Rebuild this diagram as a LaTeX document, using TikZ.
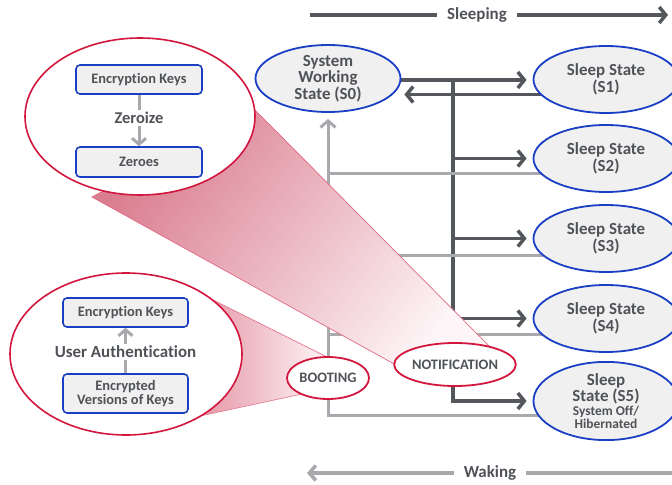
\documentclass[tikz,border=0pt]{standalone}
\usepackage{fontspec}
\setmainfont{Carlito}[Ligatures=NoCommon]
\usetikzlibrary{arrows.meta,shapes.geometric,backgrounds}

\definecolor{txt}{HTML}{4F5257}
\definecolor{darkline}{HTML}{54575C}
\definecolor{lightline}{HTML}{A7A9AD}
\definecolor{stateblue}{HTML}{1B3FC4}
\definecolor{statefill}{HTML}{F0F0F0}
\definecolor{crimson}{HTML}{D2163E}
\definecolor{conedark}{HTML}{DA7D8F}
\definecolor{conedarkb}{HTML}{E597A6}
\definecolor{conelight}{HTML}{FDF5F7}

\begin{document}
\begin{tikzpicture}[x=1bp,y=-1bp,
  text=txt,
  state/.style={ellipse, draw=stateblue, line width=1.8bp, fill=statefill,
    minimum width=145bp, minimum height=67bp, inner sep=0pt, align=center,
    font=\fontsize{17}{16.5}\selectfont\bfseries},
  phase/.style={ellipse, draw=crimson, line width=1.8bp, fill=white, inner sep=0pt,
    font=\fontsize{14.5}{16}\selectfont\bfseries},
  bubble/.style={ellipse, draw=crimson, line width=1.6bp, fill=white, inner sep=0pt},
  keybox/.style={rectangle, rounded corners=4bp, draw=stateblue, line width=1.6bp,
    fill=statefill, minimum width=126bp, inner sep=0pt, align=center,
    font=\fontsize{14.5}{13.7}\selectfont\bfseries},
  sleepline/.style={draw=darkline, line width=3.5bp},
  wakeline/.style={draw=lightline, line width=3bp},
  darktip/.style={-{Straight Barb[length=6.5bp,width=16bp]}},
  lighttip/.style={-{Straight Barb[length=6.5bp,width=15bp]}},
  boxarrow/.style={draw=lightline, line width=3bp, -{Straight Barb[length=6bp,width=14bp]}},
  caption/.style={font=\fontsize{17}{20}\selectfont\bfseries, inner xsep=10bp}
]
\useasboundingbox (0,0) rectangle (672,485);

% magnifier cones
\shade[top color=conedark, bottom color=conelight, shading angle=53,
  draw=crimson!65, line width=0.7bp]
  (255,110) -- (493,350) -- (405,370) -- (92,197) -- cycle;
\shade[left color=conedarkb, right color=conelight,
  draw=crimson!55, line width=0.7bp]
  (213,300) -- (327,357) -- (302,394) -- (200,416) -- cycle;

% magnifier bubbles
\node[bubble, minimum width=230bp, minimum height=157bp] (zoomA) at (140,116.5) {};
\node[bubble, minimum width=232bp, minimum height=162bp] (zoomB) at (126,354) {};

\node[keybox, minimum height=29bp] (keysA) at (139,79.5) {Encryption Keys};
\node[keybox, minimum height=30bp] (zeroes) at (139,162) {Zeroes};
\draw[boxarrow] (keysA) -- node[fill=white, inner sep=2bp, pos=0.45,
  font=\fontsize{16.5}{18}\selectfont\bfseries] {Zeroize} (zeroes);

\node[keybox, minimum width=125bp, minimum height=29bp] (keysB) at (125.5,312.5) {Encryption Keys};
\node[keybox, minimum width=125bp, minimum height=39bp] (encr) at (125.5,393.5) {Encrypted\\Versions of Keys};
\draw[boxarrow] (encr) -- node[fill=white, inner sep=2bp, pos=0.47,
  font=\fontsize{17}{19}\selectfont\bfseries] {User Authentication} (keysB);

% power states
\node[state] (s0) at (328,78.5) {System\\Working\\State (S0)};
\node[state] (s1) at (606,79.5) {Sleep State\\(S1)};
\node[state] (s2) at (606,158.5) {Sleep State\\(S2)};
\node[state] (s3) at (606,238.5) {Sleep State\\(S3)};
\node[state] (s4) at (606,318.5) {Sleep State\\(S4)};
\node[state, minimum height=76bp] (s5) at (606,401)
  {Sleep\\State (S5)\\[-2.5bp]{\fontsize{13.5}{13}\selectfont System Off/}\\[-3.5bp]{\fontsize{13.5}{13}\selectfont Hibernated}};

\node[phase, minimum width=82bp, minimum height=42bp] (boot) at (328,378) {BOOTING};
\node[phase, minimum width=106bp, minimum height=43bp] (notif) at (455,364.5) {NOTIFICATION};

% direction captions
\node[caption] (sleeping) at (477,15) {Sleeping};
\coordinate (sleepA) at (310,15);
\coordinate (sleepB) at (668,15);
\draw[sleepline] (sleepA) -- (sleeping.west);
\draw[sleepline, darktip] (sleeping.east) -- (sleepB);

\node[caption] (waking) at (490,473) {Waking};
\coordinate (wakeA) at (680,473);
\coordinate (wakeB) at (307,473);
\draw[wakeline, line width=3.5bp] (wakeA) -- (waking.east);
\draw[wakeline, line width=3.5bp, lighttip] (waking.west) -- (wakeB);

% transitions
\begin{pgfonlayer}{background}
  \coordinate (trunk) at (453,80);
  \draw[sleepline, darktip, shorten >=6bp] ([yshift=-1.5bp]s0.east) -- ([yshift=-1.5bp]s0.east -| s1.west);
  \draw[sleepline, darktip, shorten >=3bp] ([yshift=-15bp]s1.center) -- ([yshift=-15bp]s1.center -| s0.east);
  \draw[sleepline, darktip, shorten >=6bp] (trunk) |- (s5.west);
  \draw[sleepline, darktip, shorten >=6bp] (trunk |- s2.west) -- (s2.west);
  \draw[sleepline, darktip, shorten >=6bp] (trunk |- s3.west) -- (s3.west);
  \draw[sleepline, darktip, shorten >=6bp] (trunk |- s4.west) -- (s4.west);

  \draw[wakeline, lighttip, shorten >=6bp] ([yshift=-14bp]s5.center) -| (s0.south);
  \draw[wakeline] ([yshift=-15.5bp]s2.center) -- ([yshift=-15.5bp]s2.center -| s0.south);
  \draw[wakeline] ([yshift=-16.5bp]s3.center) -- ([yshift=-16.5bp]s3.center -| s0.south);
  \draw[wakeline] ([yshift=-15.5bp]s4.center) -- ([yshift=-15.5bp]s4.center -| s0.south);
\end{pgfonlayer}
\end{tikzpicture}
\end{document}
